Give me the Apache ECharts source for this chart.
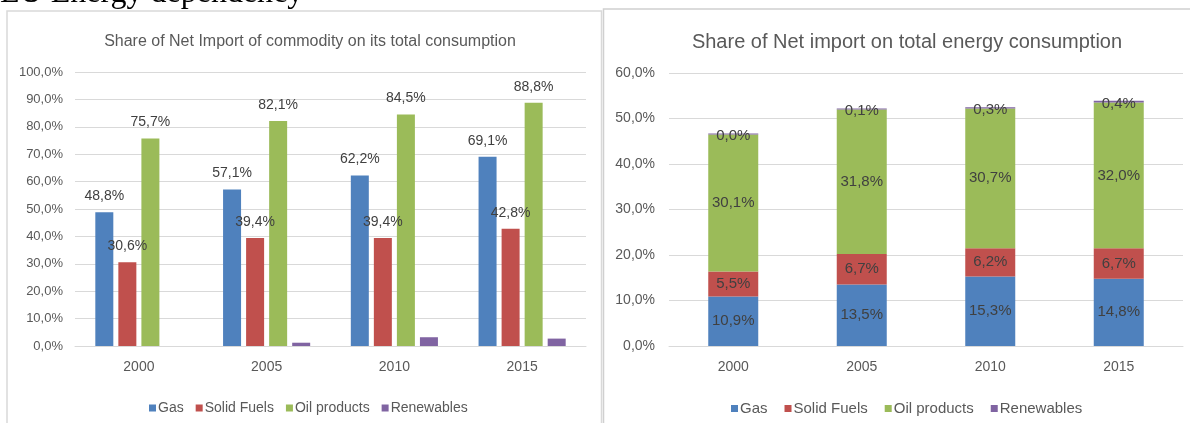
<!DOCTYPE html>
<html>
<head>
<meta charset="utf-8">
<title>EU Energy dependency</title>
<script src="https://cdn.jsdelivr.net/npm/echarts@6/dist/echarts.min.js"></script>
<style>
html,body{margin:0;padding:0;background:#fff;}
#main{width:1190px;height:423px;}
</style>
</head>
<body>
<div id="main"></div>
<script>
// data
var years = ['2000', '2005', '2010', '2015'];
var seriesNames = ['Gas', 'Solid Fuels', 'Oil products', 'Renewables'];
var colors = ['#4f81bd', '#c0504d', '#9bbb59', '#8064a2'];
// share of net import of each commodity on its own consumption
var commodityGas = [48.8, 57.1, 62.2, 69.1];
var commoditySolid = [30.6, 39.4, 39.4, 42.8];
var commodityOil = [75.7, 82.1, 84.5, 88.8];
var commodityRenew = [0, 1.2, 3.2, 2.7];
// share of net import on total energy consumption
var totalGas = [10.9, 13.5, 15.3, 14.8];
var totalSolid = [5.5, 6.7, 6.2, 6.7];
var totalOil = [30.1, 31.8, 30.7, 32.0];
var totalRenew = [0.04, 0.1, 0.3, 0.4];

var commodityData = [commodityGas, commoditySolid, commodityOil, commodityRenew];
var totalData = [totalGas, totalSolid, totalOil, totalRenew];

function pct(v){
	return Number(v).toFixed(1).replace('.', ',') + '%';
}

var font = 'Liberation Sans, Arial, sans-serif';
var chart = echarts.init(document.getElementById('main'));

var series = [];
//左图
commodityData.forEach(function(d, i){
	series.push({
		name: seriesNames[i],
		type: 'bar',
		xAxisIndex: 0,
		yAxisIndex: 0,
		barWidth: 18,
		barGap: '28%',
		data: d,
		itemStyle: {color: colors[i]},
		label: {
			show: i < 3,
			position: 'top',
			distance: 9,
			color: '#404040',
			fontSize: 14,
			fontFamily: font,
			formatter: function(p){ return pct(p.value); }
		}
	});
});
//右图 堆叠
totalData.forEach(function(d, i){
	series.push({
		name: seriesNames[i],
		type: 'bar',
		stack: 'total',
		xAxisIndex: 1,
		yAxisIndex: 1,
		barWidth: 50,
		barMinHeight: i == 3 ? 1 : 0,
		data: d,
		itemStyle: {color: colors[i]},
		label: {
			show: true,
			position: 'inside',
			offset: i == 3 ? [0, 2] : [0, 0],
			color: '#404040',
			fontSize: 15,
			fontFamily: font,
			formatter: function(p){ return pct(p.value); }
		}
	});
});

function yAxis(gi, max, size){
	return {
		type: 'value',
		gridIndex: gi,
		min: 0,
		max: max,
		interval: 10,
		axisLine: {show: false},
		axisTick: {show: false},
		axisLabel: {color: '#595959', fontSize: size, fontFamily: font, margin: gi == 0 ? 12 : 14, formatter: pct},
		splitLine: {lineStyle: {color: '#d9d9d9', width: 1}}
	};
}
function xAxis(gi){
	return {
		type: 'category',
		gridIndex: gi,
		data: years,
		axisLine: {lineStyle: {color: '#d9d9d9', width: 1}},
		axisTick: {show: false},
		axisLabel: {color: '#595959', fontSize: 14, fontFamily: font, margin: 14}
	};
}
function legend(left, size, gap){
	return {
		data: seriesNames,
		left: left,
		top: 396,
		itemWidth: 7,
		itemHeight: 7,
		itemGap: gap,
		icon: 'rect',
		textStyle: {color: '#595959', fontSize: size, fontFamily: font, padding: [0, 0, 0, -3]}
	};
}

chart.setOption({
	animation: false,
	textStyle: {fontFamily: font},
	title: [
		{text: 'Share of Net Import of commodity on its total consumption', left: 305, top: 29, textAlign: 'center',
			textStyle: {color: '#595959', fontSize: 16, fontWeight: 'normal', fontFamily: font}},
		{text: 'Share of Net import on total energy consumption', left: 902, top: 27, textAlign: 'center',
			textStyle: {color: '#595959', fontSize: 20, fontWeight: 'normal', fontFamily: font}}
	],
	legend: [legend(144, 14, 12), legend(726, 15, 17)],
	grid: [
		{left: 75, top: 72, width: 511, height: 274, containLabel: false},
		{left: 669, top: 73, width: 514, height: 273, containLabel: false}
	],
	xAxis: [xAxis(0), xAxis(1)],
	yAxis: [yAxis(0, 100, 13), yAxis(1, 60, 14)],
	series: series,
	graphic: [
		{type: 'rect', silent: true, shape: {x: 7, y: 11, width: 594.5, height: 430},
			style: {fill: 'none', stroke: '#d9d9d9', lineWidth: 1.5}},
		{type: 'rect', silent: true, shape: {x: 603.5, y: 9, width: 600, height: 430},
			style: {fill: 'none', stroke: '#d0d0d0', lineWidth: 1.5}},
		{type: 'text', silent: true, left: 0, top: -22,
			style: {text: 'EU Energy dependency', fill: '#000', font: '32px "Liberation Serif", "Times New Roman", serif'}}
	]
});
</script>
</body>
</html>
